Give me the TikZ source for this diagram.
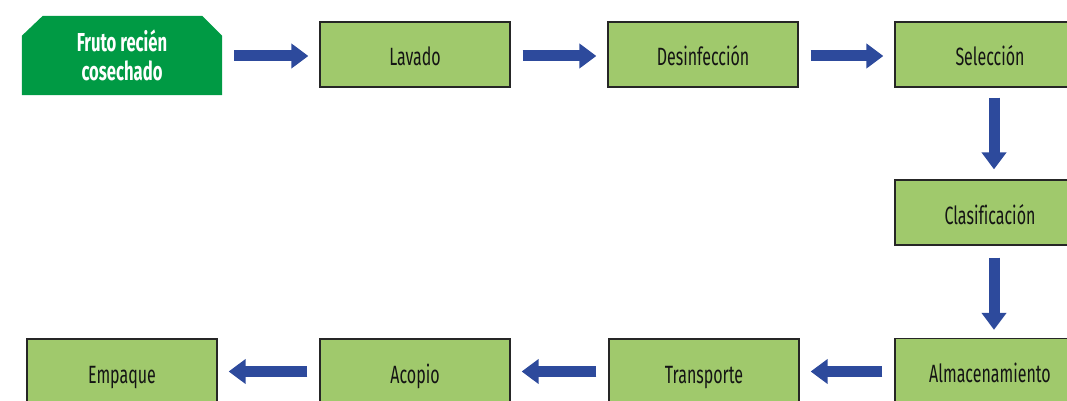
\documentclass[tikz,border=0pt]{standalone}
\usepackage{fontspec}
\setmainfont[FakeStretch=0.64, Ligatures=NoCommon]{Fira Sans}
\usetikzlibrary{arrows.meta,backgrounds}

\definecolor{stepfill}{HTML}{A0C96C}
\definecolor{stepline}{HTML}{262626}
\definecolor{startfill}{HTML}{009A44}
\definecolor{flowblue}{HTML}{2D4A9C}

\tikzset{
  stepbox/.style={draw=stepline, line width=1.3pt, fill=stepfill,
    minimum width=190pt, minimum height=65pt, inner sep=0pt,
    text height=23pt, text depth=0pt,
    font=\fontsize{25}{29}\selectfont, text=black!92},
  startbox/.style={minimum width=200pt, minimum height=80pt, inner sep=0pt,
    align=center, text=white,
    font=\fontsize{26}{29.5}\selectfont\bfseries},
  flow/.style={draw=flowblue, line width=11pt,
    -{Triangle[width=24pt,length=17pt]},
    shorten <=12pt, shorten >=11pt}
}

\begin{document}
\begin{tikzpicture}[x=1pt,y=-1pt]
  \useasboundingbox (0,0) rectangle (1067,401);
  \clip (0,0) rectangle (1067,401);

  % starting point: chamfered dark green tab
  \node[startbox] (fruto) at (122,55.5) {Fruto recién\\cosechado};
  \begin{scope}[on background layer]
    \fill[startfill] ([yshift=0.5pt]fruto.south west)
      -- ([yshift=-20.5pt]fruto.north west)
      -- ([xshift=21pt,yshift=-0.5pt]fruto.north west)
      -- ([xshift=-20pt,yshift=-0.5pt]fruto.north east)
      -- ([yshift=-20.5pt]fruto.north east)
      -- ([yshift=0.5pt]fruto.south east) -- cycle;
  \end{scope}

  % process steps
  \node[stepbox] (lav) at (415,54.5) {Lavado};
  \node[stepbox] (des) at (703,54.5) {Desinfección};
  \node[stepbox] (sel) at (990,54.5) {Selección};
  \node[stepbox] (cla) at (990,212.5) {Clasificación};
  \node[stepbox] (alm) at (990,371) {Almacenamiento};
  \node[stepbox] (tra) at (704,371.5) {Transporte};
  \node[stepbox] (aco) at (415,371.5) {Acopio};
  \node[stepbox] (emp) at (122,371.5) {Empaque};

  % flow arrows
  \draw[flow] ([yshift=-1.5pt]fruto.east |- lav.east) -- ([yshift=-1.5pt]lav.west);
  \draw[flow] ([yshift=-1.5pt]lav.east) -- ([yshift=-1.5pt]des.west);
  \draw[flow] ([yshift=-1.5pt]des.east) -- ([yshift=-1.5pt]sel.west);
  \draw[flow, shorten <=10pt, shorten >=10pt] ([xshift=4pt]sel.south) -- ([xshift=4pt]cla.north);
  \draw[flow, shorten <=12pt, shorten >=8pt] ([xshift=4pt]cla.south) -- ([xshift=4pt]alm.north);
  \draw[flow] (alm.west |- tra.east) -- (tra.east);
  \draw[flow] (tra.west) -- (aco.east);
  \draw[flow] (aco.west) -- (emp.east);
\end{tikzpicture}
\end{document}
